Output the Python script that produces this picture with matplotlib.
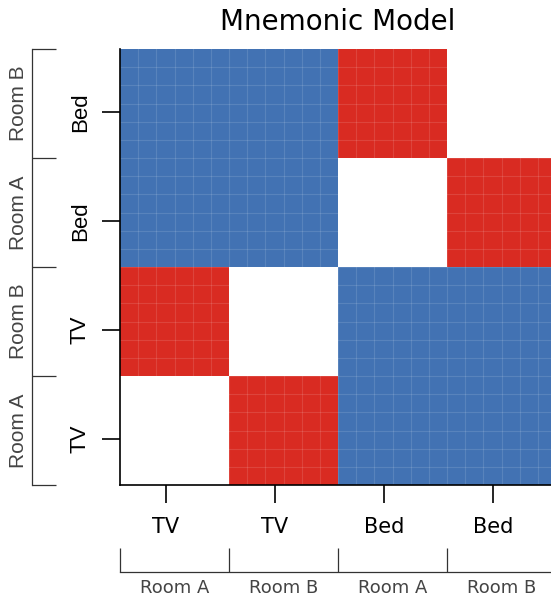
import numpy as np
import matplotlib
matplotlib.use('Agg')
import matplotlib.pyplot as plt
from matplotlib.colors import ListedColormap

# stimuli (columns left->right, rows bottom->top)
objects = ['TV', 'TV', 'Bed', 'Bed']
rooms = ['Room A', 'Room B', 'Room A', 'Room B']

# 0 = same item, 1 = same object / other room, 2 = different object
model = np.array([
    [0, 1, 2, 2],
    [1, 0, 2, 2],
    [2, 2, 0, 1],
    [2, 2, 1, 0],
])

cmap = ListedColormap(['#ffffff', '#d92b22', '#4272b3'])

fig = plt.figure(figsize=(5.51, 6.04), dpi=100)
ax = fig.add_axes([120 / 551, (604 - 485) / 604, 436 / 551, 436 / 604])

n = len(objects)
ax.pcolormesh(np.arange(n + 1), np.arange(n + 1), model, cmap=cmap, vmin=-0.5, vmax=2.5)
ax.set_xlim(0, n)
ax.set_ylim(0, n)

# faint cell grid
sub = np.linspace(0, n, n * 6 + 1)
for s in sub[1:-1]:
    ax.axvline(s, color='white', lw=0.8, alpha=0.12)
    ax.axhline(s, color='white', lw=0.8, alpha=0.12)

ax.spines['top'].set_visible(False)
ax.spines['right'].set_visible(False)
for sp in ['left', 'bottom']:
    ax.spines[sp].set_linewidth(1.2)

# ticks sit a bit before the block centres
ticks = np.arange(n) + 0.42
centers = np.arange(n) + 0.5
ax.set_xticks(ticks)
ax.set_xticklabels(objects, fontsize=15)
ax.set_yticks(ticks)
ax.set_yticklabels(objects, fontsize=16, rotation=90, va='center',
                   family='Liberation Sans')
ax.tick_params(axis='both', length=13, width=1.2)
ax.tick_params(axis='x', pad=10)
ax.tick_params(axis='y', pad=8)
ax.set_title('Mnemonic Model', fontsize=20, pad=14)

# room brackets, bottom
bx = ax.secondary_xaxis(-0.2)
bx.set_xticks(np.arange(n + 1))
bx.set_xticklabels([''] * (n + 1))
bx.tick_params(axis='x', direction='in', length=17, width=0.9, color='#333333')
bx.set_xticks(centers, minor=True)
bx.set_xticklabels(rooms, minor=True, fontsize=13, color='#444444')
bx.tick_params(axis='x', which='minor', length=0, pad=5)
bx.spines['bottom'].set_linewidth(0.9)
bx.spines['bottom'].set_color('#333333')

# room brackets, left
by = ax.secondary_yaxis(-0.202)
by.set_yticks(np.arange(n + 1))
by.set_yticklabels([''] * (n + 1))
by.tick_params(axis='y', direction='in', length=17, width=0.9, color='#333333')
by.set_yticks(centers, minor=True)
by.set_yticklabels(rooms, minor=True, fontsize=15, color='#444444', rotation=90,
                   va='center', family='Liberation Sans')
by.tick_params(axis='y', which='minor', length=0, pad=3)
by.spines['left'].set_linewidth(0.9)
by.spines['left'].set_color('#333333')

fig.savefig('out.png', dpi=100)
